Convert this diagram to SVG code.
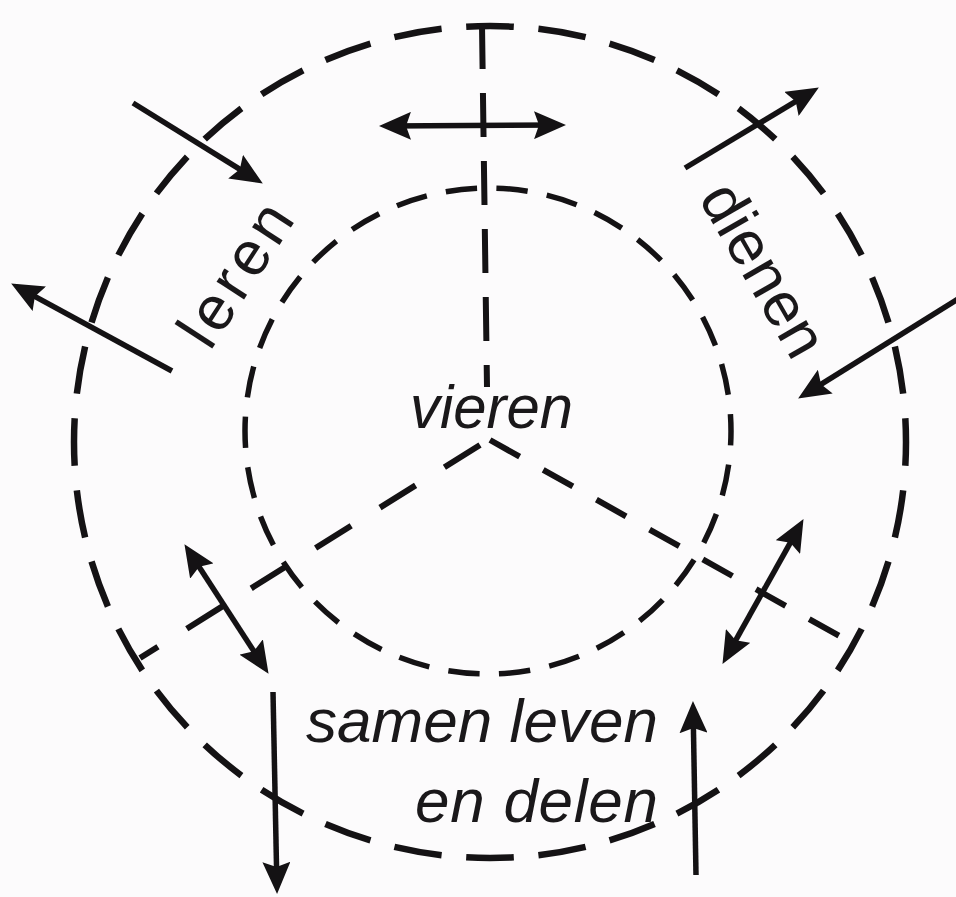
<svg xmlns="http://www.w3.org/2000/svg" width="956" height="897" viewBox="0 0 956 897">
<style>
.ring{fill:none;stroke:#141214;stroke-linecap:butt}
.spoke{fill:none;stroke:#141214;stroke-width:6}
.arr{fill:none;stroke:#141214;stroke-width:5.5}
.lbl{font-family:"Liberation Sans",Arial,sans-serif;font-size:62px;fill:#1a181a}
.it{font-style:italic}
</style>
<defs>
<marker id="ah" viewBox="0 0 32 28" refX="24" refY="14" markerWidth="32" markerHeight="28" markerUnits="userSpaceOnUse" orient="auto-start-reverse">
<path d="M0,0 L32,14 L0,28 L5,14 Z" fill="#141214"/>
</marker>
</defs>
<rect width="956" height="897" fill="#fcfbfc"/>
<g id="outer-ring"><circle class="ring" cx="490" cy="442" r="416" pathLength="360" stroke-width="6.5" stroke-dasharray="6.6 3.4" stroke-dashoffset="3.3"/></g>
<g id="inner-ring"><circle class="ring" cx="488" cy="431" r="243" pathLength="360" stroke-width="5.5" stroke-dasharray="7.4 4.6" stroke-dashoffset="4"/></g>
<g id="spokes">
<line class="spoke" x1="482" y1="25" x2="487" y2="387" stroke-dasharray="44 24"/>
<line class="spoke" x1="480" y1="445" x2="140" y2="658" stroke-dasharray="42 34"/>
<line class="spoke" x1="490" y1="440" x2="843" y2="638" stroke-dasharray="34 27"/>
</g>
<g id="connectors">
<line class="arr" x1="133" y1="103" x2="256" y2="179.3" marker-end="url(#ah)"/>
<line class="arr" x1="172" y1="371" x2="18.2" y2="287.3" marker-end="url(#ah)"/>
<line class="arr" x1="387" y1="126" x2="558" y2="125" marker-start="url(#ah)" marker-end="url(#ah)"/>
<line class="arr" x1="685" y1="168" x2="812" y2="91.6" marker-end="url(#ah)"/>
<line class="arr" x1="958" y1="299" x2="804.9" y2="394.3" marker-end="url(#ah)"/>
<line class="arr" x1="188.8" y1="550.9" x2="264.2" y2="667.1" marker-start="url(#ah)" marker-end="url(#ah)"/>
<line class="arr" x1="273" y1="692" x2="276.9" y2="886" marker-end="url(#ah)"/>
<line class="arr" x1="799.6" y1="526.1" x2="726.4" y2="656.9" marker-start="url(#ah)" marker-end="url(#ah)"/>
<line class="arr" x1="696" y1="875" x2="693.1" y2="709" marker-end="url(#ah)"/>
</g>
<g id="vieren"><text class="lbl it" x="410" y="428" font-size="65" textLength="163" lengthAdjust="spacingAndGlyphs">vieren</text></g>
<g id="leren"><text class="lbl" transform="translate(210,352) rotate(-57)" x="0" y="0" textLength="158" lengthAdjust="spacing">leren</text></g>
<g id="dienen"><text class="lbl" transform="translate(698,198) rotate(60)" x="0" y="0" textLength="190" lengthAdjust="spacing">dienen</text></g>
<g id="samen-leven">
<text class="lbl it" x="306" y="742" textLength="352" lengthAdjust="spacing">samen leven</text>
<text class="lbl it" x="415" y="822" textLength="243" lengthAdjust="spacing">en delen</text>
</g>
</svg>
